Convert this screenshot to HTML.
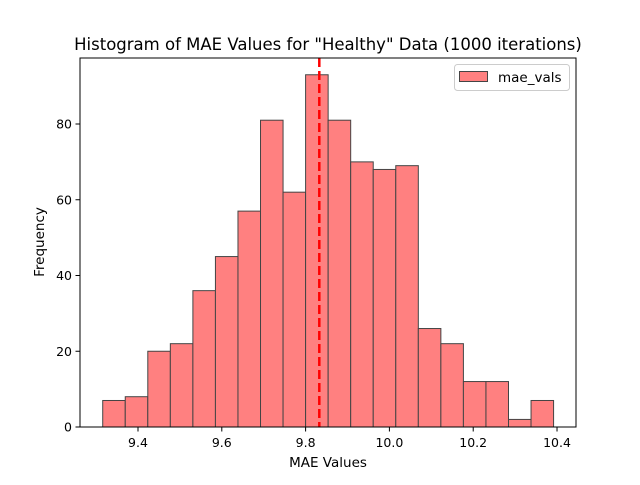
<!DOCTYPE html>
<html><head><meta charset="utf-8"><style>
body{margin:0;background:#fff;}
svg text{font-family:"DejaVu Sans","Liberation Sans",sans-serif;fill:#000;}
</style></head><body>
<svg width="640" height="480" xmlns="http://www.w3.org/2000/svg" id="chart">
<text x="328" y="50" font-size="16.5" text-anchor="middle">Histogram of MAE Values for "Healthy" Data (1000 iterations)</text>
<g id="bars"></g>
<g id="xticks"></g>
<g id="yticks"></g>
<line id="meanline" stroke="#ff0000" stroke-width="2.5" stroke-dasharray="9,4"/>
<rect x="80" y="58" width="496" height="369" fill="none" stroke="#000" stroke-width="1"/>
<text x="328" y="467" font-size="13.5" text-anchor="middle">MAE Values</text>
<text x="0" y="0" font-size="13.5" text-anchor="middle" transform="translate(44,242) rotate(-90)">Frequency</text>
<g>
<rect x="454.5" y="64.5" width="115" height="26" rx="3" fill="#fff" stroke="#ccc"/>
<rect x="459.5" y="71.5" width="28" height="10" fill="#ff8080" stroke="#444"/>
<text x="498" y="82" font-size="13.5">mae_vals</text>
</g>
</svg>
<script>
const counts=[7,8,20,22,36,45,57,81,62,93,81,70,68,69,26,22,12,12,2,7];
const binStart=9.3158;
const binWidth=0.0538;
const meanValue=9.8327;
const xTicks=[9.4,9.6,9.8,10.0,10.2,10.4];
const xTickLabels=["9.4","9.6","9.8","10.0","10.2","10.4"];
const yTicks=[0,20,40,60,80];
const NS="http://www.w3.org/2000/svg";
const xs=v=>80+(v-9.2616)/(10.4453-9.2616)*496;
const ys=v=>427-v*3.7875;
const bars=document.getElementById('bars');
counts.forEach((c,i)=>{
  const r=document.createElementNS(NS,'rect');
  const x0=xs(binStart+i*binWidth),x1=xs(binStart+(i+1)*binWidth);
  r.setAttribute('x',x0);r.setAttribute('width',x1-x0);
  r.setAttribute('y',ys(c));r.setAttribute('height',ys(0)-ys(c));
  r.setAttribute('fill','#ff8080');r.setAttribute('stroke','#444');r.setAttribute('stroke-width','1');
  
  
  bars.appendChild(r);
});
const xg=document.getElementById('xticks');
xTicks.forEach((t,i)=>{
  const l=document.createElementNS(NS,'line');
  l.setAttribute('x1',xs(t));l.setAttribute('x2',xs(t));l.setAttribute('y1',427);l.setAttribute('y2',431.5);l.setAttribute('stroke','#000');
  
  
  xg.appendChild(l);
  const tx=document.createElementNS(NS,'text');
  tx.setAttribute('x',xs(t));tx.setAttribute('y',447);tx.setAttribute('font-size','12.5');tx.setAttribute('text-anchor','middle');
  tx.textContent=xTickLabels[i];
  
  
  xg.appendChild(tx);
});
const yg=document.getElementById('yticks');
yTicks.forEach(t=>{
  const l=document.createElementNS(NS,'line');
  l.setAttribute('x1',75.5);l.setAttribute('x2',80);l.setAttribute('y1',ys(t));l.setAttribute('y2',ys(t));l.setAttribute('stroke','#000');
  
  
  yg.appendChild(l);
  const tx=document.createElementNS(NS,'text');
  tx.setAttribute('x',72);tx.setAttribute('y',ys(t)+4.5);tx.setAttribute('font-size','12.5');tx.setAttribute('text-anchor','end');
  tx.textContent=String(t);
  
  
  yg.appendChild(tx);
});
const m=document.getElementById('meanline');
m.setAttribute('x1',xs(meanValue));m.setAttribute('x2',xs(meanValue));m.setAttribute('y1',58);m.setAttribute('y2',427);
</script>
</body></html>
